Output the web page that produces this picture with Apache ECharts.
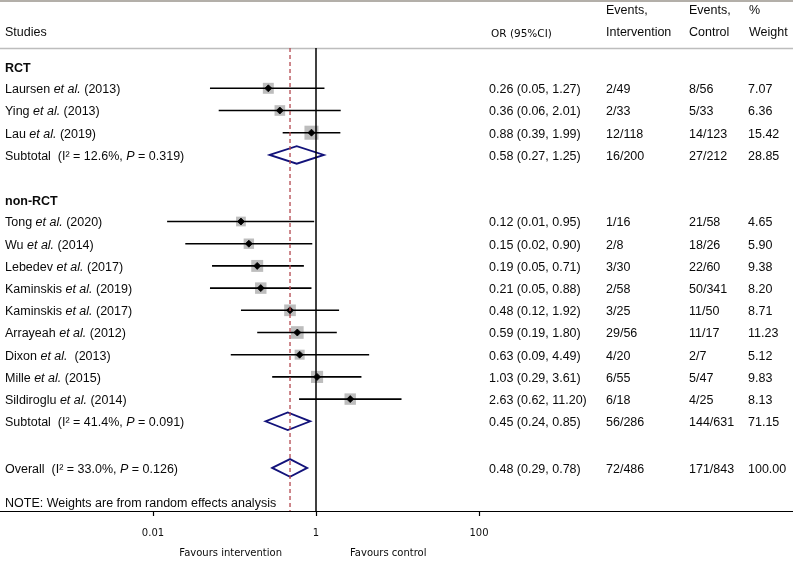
<!DOCTYPE html>
<html><head><meta charset="utf-8">
<script src="https://cdn.jsdelivr.net/npm/echarts@6/dist/echarts.min.js"></script>
<style>html,body{margin:0;padding:0;background:#fff}#c{width:793px;height:563px}</style>
</head><body><div id="c"></div>
<script>
// ---------- data ----------
const rctLabels = ['Laursen et al. (2013)', 'Ying et al. (2013)', 'Lau et al. (2019)'];
const rctOR = [0.26, 0.36, 0.88];
const rctLo = [0.05, 0.064, 0.39];
const rctHi = [1.27, 2.01, 1.99];
const rctEvInt = ['2/49', '2/33', '12/118'];
const rctEvCtl = ['8/56', '5/33', '14/123'];
const rctWeight = [7.07, 6.36, 15.42];

const nonLabels = ['Tong et al. (2020)', 'Wu et al. (2014)', 'Lebedev et al. (2017)', 'Kaminskis et al. (2019)',
  'Kaminskis et al. (2017)', 'Arrayeah et al. (2012)', 'Dixon et al.  (2013)', 'Mille et al. (2015)', 'Sildiroglu et al. (2014)'];
const nonOR = [0.12, 0.15, 0.19, 0.21, 0.48, 0.59, 0.63, 1.03, 2.63];
const nonLo = [0.0149, 0.0249, 0.053, 0.05, 0.12, 0.19, 0.09, 0.29, 0.62];
const nonHi = [0.95, 0.90, 0.71, 0.88, 1.92, 1.80, 4.49, 3.61, 11.20];
const nonEvInt = ['1/16', '2/8', '3/30', '2/58', '3/25', '29/56', '4/20', '6/55', '6/18'];
const nonEvCtl = ['21/58', '18/26', '22/60', '50/341', '11/50', '11/17', '2/7', '5/47', '4/25'];
const nonWeight = [4.65, 5.90, 9.38, 8.20, 8.71, 11.23, 5.12, 9.83, 8.13];

const pooledNames = ['Subtotal', 'Subtotal', 'Overall'];
const pooledI2 = ['12.6', '41.4', '33.0'];
const pooledP = ['0.319', '0.091', '0.126'];
const pooledOR = [0.58, 0.45, 0.48];
const pooledLo = [0.27, 0.24, 0.29];
const pooledHi = [1.25, 0.85, 0.78];
const pooledEvInt = ['16/200', '56/286', '72/486'];
const pooledEvCtl = ['27/212', '144/631', '171/843'];
const pooledWeight = [28.85, 71.15, 100.00];

const groupNames = ['RCT', 'non-RCT'];
const tickLabels = [0.01, 1, 100];
const noteText = 'NOTE: Weights are from random effects analysis';

// ---------- build rows ----------
const lg = Math.log10;
const textRows = [], studyData = [], pooledData = [];
const fmt = v => v.toFixed(2);
const ciText = (o, l, h) => fmt(o) + ' (' + fmt(l) + ', ' + fmt(h) + ')';
const studyRich = s => '{n|' + s.replace('et al.', '}{i|et al.}{n|') + '}';

let row = 0;
function addGroup(gi, labels, ors, los, his, ei, ec, ws) {
  textRows.push({ row: row, label: '{b|' + groupNames[gi] + '}', head: true });
  row++;
  labels.forEach((s, i) => {
    textRows.push({ row: row, label: studyRich(s), ci: ciText(ors[i], los[i], his[i]), ei: ei[i], ec: ec[i], w: fmt(ws[i]) });
    studyData.push([lg(ors[i]), row, lg(los[i]), lg(his[i]), ws[i]]);
    row++;
  });
}
function addPooled(k) {
  textRows.push({ row: row, label: '{n|' + pooledNames[k] + '  (I² = ' + pooledI2[k] + '%, }{i|P}{n| = ' + pooledP[k] + ')}',
    ci: ciText(pooledOR[k], pooledLo[k], pooledHi[k]), ei: pooledEvInt[k], ec: pooledEvCtl[k], w: fmt(pooledWeight[k]) });
  pooledData.push([lg(pooledOR[k]), row, lg(pooledLo[k]), lg(pooledHi[k])]);
}
addGroup(0, rctLabels, rctOR, rctLo, rctHi, rctEvInt, rctEvCtl, rctWeight);
addPooled(0); row += 2;
addGroup(1, nonLabels, nonOR, nonLo, nonHi, nonEvInt, nonEvCtl, nonWeight);
addPooled(1); row += 2.1;
addPooled(2); row += 1.55;
textRows.push({ row: row, label: '{n|' + noteText + '}' });

// ---------- layout constants ----------
const PX_PER_DEC = 81.5, X_ONE = 316, W = 793;
const X_MIN = -X_ONE / PX_PER_DEC, X_MAX = (W - X_ONE) / PX_PER_DEC;
const ROW_H = 22.2, ROW0 = 66.1, GRID_TOP = 48, GRID_BOT = 511;
const Y_MIN = (GRID_TOP - ROW0) / ROW_H, Y_MAX = (GRID_BOT - ROW0) / ROW_H;

const FONT = '"Liberation Sans", Arial, sans-serif';
const RICH = {
  n: { fontFamily: FONT, fontSize: 12.5, fill: '#0a0a0a' },
  i: { fontFamily: FONT, fontSize: 12.5, fontStyle: 'italic', fill: '#0a0a0a' },
  b: { fontFamily: FONT, fontSize: 12.5, fontWeight: 'bold', fill: '#0a0a0a' }
};
const COLS = { label: 5, ci: 489, ei: 606, ec: 689, w: 748 };
const NAVY = '#12127a';
const SMALL = '"DejaVu Sans", Verdana, sans-serif';

const chart = echarts.init(document.getElementById('c'), null, { renderer: 'canvas' });

function headerText(x, y, t, font, align) {
  return { type: 'text', x: x, y: y, style: { text: t, font: font || ('12.5px ' + FONT), fill: '#0a0a0a', verticalAlign: 'middle', textAlign: align || 'left' } };
}

const option = {
  animation: false,
  grid: { left: 0, right: 0, top: GRID_TOP, bottom: 563 - GRID_BOT, containLabel: false },
  xAxis: {
    type: 'value', min: X_MIN, max: X_MAX, position: 'bottom',
    axisLine: { show: true, onZero: false, lineStyle: { color: '#000', width: 1.2 } },
    axisTick: { show: true, customValues: tickLabels.map(lg), length: 5, lineStyle: { color: '#000', width: 1.2 } },
    axisLabel: {
      customValues: tickLabels.map(lg), margin: 17,
      formatter: v => String(Number(Math.pow(10, v).toPrecision(6))),
      fontFamily: SMALL, fontSize: 10, color: '#111'
    },
    splitLine: { show: false }
  },
  yAxis: { type: 'value', inverse: true, min: Y_MIN, max: Y_MAX, show: false },
  graphic: [
    { type: 'line', shape: { x1: 0, y1: 1, x2: W, y2: 1 }, style: { stroke: '#9a948c', lineWidth: 1.5 } },
    { type: 'line', shape: { x1: 0, y1: 48.5, x2: W, y2: 48.5 }, style: { stroke: '#bdbdbd', lineWidth: 1.5 } },
    headerText(5, 32.5, 'Studies'),
    headerText(491, 34.5, 'OR (95%CI)', '10.5px ' + SMALL),
    headerText(606, 10.5, 'Events,'),
    headerText(606, 32.5, 'Intervention'),
    headerText(689, 10.5, 'Events,'),
    headerText(689, 32.5, 'Control'),
    headerText(749, 10.5, '%'),
    headerText(749, 32.5, 'Weight'),
    headerText(282, 553.5, 'Favours intervention', '10px ' + SMALL, 'right'),
    headerText(350, 553.5, 'Favours control', '10px ' + SMALL, 'left')
  ],
  series: [
    {
      type: 'custom', z: 2,
      data: studyData,
      renderItem: (params, api) => {
        const y = api.value(1);
        const p = api.coord([api.value(0), y]);
        const l = api.coord([api.value(2), y]);
        const h = api.coord([api.value(3), y]);
        const s = 4.5 + 2.43 * Math.sqrt(api.value(4));
        const d = 3.5;
        return {
          type: 'group', children: [
            { type: 'rect', shape: { x: p[0] - s / 2, y: p[1] - s / 2, width: s, height: s }, style: { fill: '#bdbdbd' } },
            { type: 'line', shape: { x1: l[0], y1: l[1], x2: h[0], y2: h[1] }, style: { stroke: '#000', lineWidth: 1.6 } },
            { type: 'polygon', shape: { points: [[p[0] - d, p[1]], [p[0], p[1] - d], [p[0] + d, p[1]], [p[0], p[1] + d]] }, style: { fill: '#000', stroke: '#000', lineWidth: 0.8 } }
          ]
        };
      }
    },
    {
      type: 'custom', z: 3,
      data: pooledData,
      renderItem: (params, api) => {
        const y = api.value(1);
        const p = api.coord([api.value(0), y]);
        const l = api.coord([api.value(2), y]);
        const h = api.coord([api.value(3), y]);
        const hh = 8.8;
        return {
          type: 'polygon',
          shape: { points: [[l[0], p[1]], [p[0], p[1] - hh], [h[0], p[1]], [p[0], p[1] + hh]] },
          style: { fill: 'none', stroke: NAVY, lineWidth: 1.8 }
        };
      }
    },
    {
      type: 'custom', z: 4,
      data: [[0, 0], [lg(pooledOR[2]), 0]],
      renderItem: (params, api) => {
        const a = api.coord([api.value(0), Y_MIN]);
        const b = api.coord([api.value(0), Y_MAX]);
        const dashed = params.dataIndex === 1;
        return {
          type: 'line', shape: { x1: a[0], y1: a[1], x2: b[0], y2: b[1] },
          style: dashed ? { stroke: '#b4484f', lineWidth: 1.3, lineDash: [4, 3] } : { stroke: '#000', lineWidth: 1.5 }
        };
      }
    },
    {
      type: 'custom', z: 5,
      data: textRows.map(t => [0, t.row]),
      renderItem: (params, api) => {
        const t = textRows[params.dataIndex];
        const yy = api.coord([0, api.value(1)])[1] + (t.head ? 2.5 : 1.5);
        const mk = (x, txt, rich) => ({
          type: 'text', x: x, y: yy,
          style: rich ? { text: txt, rich: RICH, verticalAlign: 'middle', textAlign: 'left', font: '12.5px ' + FONT }
                      : { text: txt, font: '12.5px ' + FONT, fill: '#0a0a0a', verticalAlign: 'middle', textAlign: 'left' }
        });
        const ch = [mk(COLS.label, t.label, true)];
        if (t.ci) {
          ch.push(mk(COLS.ci, t.ci));
          ch.push(mk(COLS.ei, t.ei));
          ch.push(mk(COLS.ec, t.ec));
          ch.push(mk(COLS.w, t.w));
        }
        return { type: 'group', children: ch };
      }
    }
  ]
};
chart.setOption(option);
</script>
</body></html>
